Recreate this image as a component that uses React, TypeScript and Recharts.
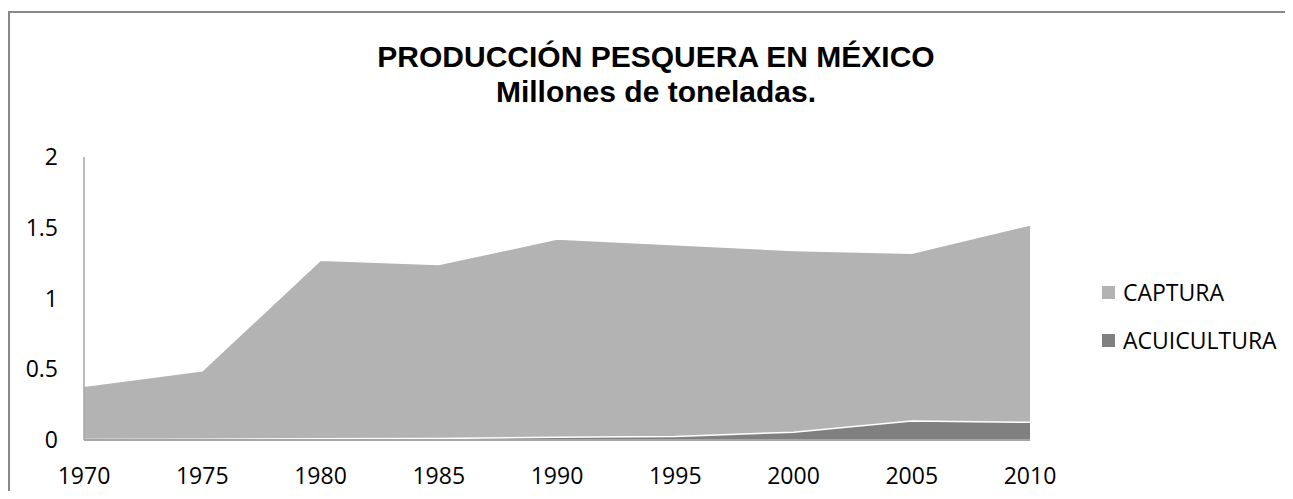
import { AreaChart, Area, XAxis, YAxis } from 'recharts';

const YEARS = ['1970', '1975', '1980', '1985', '1990', '1995', '2000', '2005', '2010'];
const CAPTURA = [0.38, 0.49, 1.27, 1.24, 1.42, 1.38, 1.34, 1.32, 1.52];
const ACUICULTURA = [0.004, 0.006, 0.008, 0.01, 0.02, 0.025, 0.055, 0.135, 0.125];
const Y_TICKS = [0, 0.5, 1, 1.5, 2];

const FONT = '"Open Sans", "Noto Sans", sans-serif';
const TITLE_FONT = '"Liberation Sans", Arial, sans-serif';

const SERIES = [
  { key: 'CAPTURA', color: '#b3b3b3' },
  { key: 'ACUICULTURA', color: '#808080' },
];

const data = YEARS.map((year, i) => ({
  year,
  CAPTURA: CAPTURA[i],
  ACUICULTURA: ACUICULTURA[i],
}));

export default function App() {
  return (
    <div style={{ position: 'relative', width: 1285, height: 483, fontFamily: FONT }}>
      {/* chart frame, only top/left edges fall inside the window */}
      <div
        style={{
          position: 'absolute',
          left: 0,
          top: 3,
          width: 1285,
          height: 488,
          boxSizing: 'border-box',
          borderTop: '2px solid #888',
          borderLeft: '2px solid #888',
        }}
      />
      <div
        style={{
          position: 'absolute',
          left: 0,
          top: 31,
          width: 1296,
          textAlign: 'center',
          fontFamily: TITLE_FONT,
          fontWeight: 700,
          fontSize: 30,
          lineHeight: '35px',
          color: '#000',
        }}
      >
        <div>PRODUCCIÓN PESQUERA EN MÉXICO</div>
        <div>Millones de toneladas.</div>
      </div>
      <div style={{ position: 'absolute', left: 0, top: 0 }}>
        <AreaChart
          width={1285}
          height={491}
          data={data}
          margin={{ top: 149, right: 263, left: 0, bottom: 29 }}
        >
          <XAxis
            dataKey="year"
            height={30}
            tickLine={false}
            tickSize={0}
            tickMargin={28}
            axisLine={{ stroke: '#a6a6a6', strokeWidth: 2 }}
            tick={{ fontSize: 23, fill: '#000', fontFamily: FONT }}
            interval={0}
          />
          <YAxis
            width={76}
            domain={[0, 2]}
            ticks={Y_TICKS}
            tickLine={false}
            tickSize={0}
            tickMargin={26}
            axisLine={{ stroke: '#a6a6a6', strokeWidth: 1.5 }}
            tick={{ fontSize: 23, fill: '#000', fontFamily: FONT }}
            interval={0}
          />
          {SERIES.map((s) => (
            <Area
              key={s.key}
              type="linear"
              dataKey={s.key}
              fill={s.color}
              fillOpacity={1}
              stroke="#ffffff"
              strokeWidth={1.5}
              isAnimationActive={false}
            />
          ))}
        </AreaChart>
      </div>
      {/* legend */}
      <div style={{ position: 'absolute', left: 1094, top: 260, fontSize: 23, color: '#000' }}>
        {SERIES.map((s) => (
          <div key={s.key} style={{ display: 'flex', alignItems: 'center', height: 48 }}>
            <span style={{ width: 13, height: 13, backgroundColor: s.color, marginRight: 8 }} />
            <span>{s.key}</span>
          </div>
        ))}
      </div>
    </div>
  );
}
